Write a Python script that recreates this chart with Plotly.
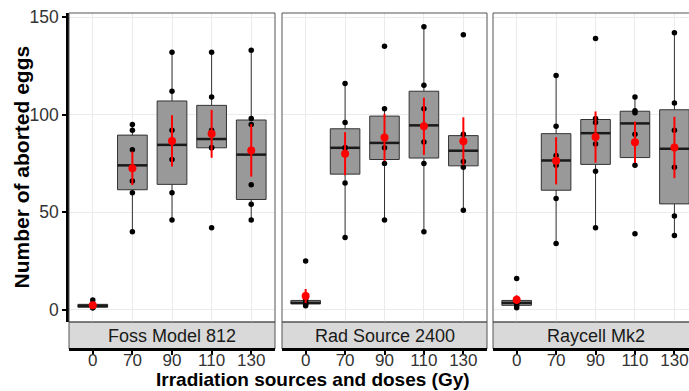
import numpy as np
import plotly.graph_objects as go

# ---------------- data ----------------
doses = ["0", "70", "90", "110", "130"]
sources = ["Foss Model 812", "Rad Source 2400", "Raycell Mk2"]

foss_model_812 = [
    [1, 1, 2, 2, 3, 5],
    [40, 60, 66, 82, 92, 95],
    [46, 60, 77, 92, 112, 132],
    [42, 83, 83, 92, 109, 132],
    [46, 54, 64, 95, 98, 133],
]
rad_source_2400 = [
    [2, 3, 3, 4, 5, 25],
    [37, 65, 83, 83, 96, 116],
    [46, 75, 83, 88, 103, 135],
    [40, 75, 86, 103, 115, 145],
    [51, 73, 76, 87, 90, 141],
]
raycell_mk2 = [
    [1, 2, 3, 4, 5, 16],
    [34, 57, 74, 79, 94, 120],
    [42, 71, 85, 96, 98, 139],
    [39, 74, 90, 101, 102, 109],
    [38, 48, 73, 92, 106, 142],
]
y_ticks = [0, 50, 100, 150]
x_title = "Irradiation sources and doses (Gy)"
y_title = "Number of aborted eggs"

panel_data = [foss_model_812, rad_source_2400, raycell_mk2]

# ---------------- layout geometry ----------------
W, H = 689, 391
ML, MR, MT, MB = 69, 0, 13, 42
PW = W - ML - MR
PH = H - MT - MB
strip_h = 27
strip_frac = strip_h / PH
panel_px = [(69, 275), (282, 487), (493, 689)]
panel_dom = [[(a - ML) / PW, (b - ML) / PW] for a, b in panel_px]
x_ranges = [[-0.6, 4.6], [-0.6, 4.6], [-0.6, 4.37]]
y_range = [-6.3, 152.1]
box_w = 0.75

FONT = "Arial, Liberation Sans, sans-serif"
fig = go.Figure()

for p, data in enumerate(panel_data):
    xa = "x" if p == 0 else f"x{p+1}"
    ya = "y" if p == 0 else f"y{p+1}"
    idx = list(range(len(doses)))
    q1s, meds, q3s, los, his, means, ses = [], [], [], [], [], [], []
    for vals in data:
        v = np.array(vals, dtype=float)
        q1, med, q3 = np.percentile(v, [25, 50, 75])
        iqr = q3 - q1
        lo = v[v >= q1 - 1.5 * iqr].min()
        hi = v[v <= q3 + 1.5 * iqr].max()
        q1s.append(q1); meds.append(med); q3s.append(q3)
        los.append(lo); his.append(hi)
        means.append(v.mean()); ses.append(v.std(ddof=1) / np.sqrt(len(v)))
    fig.add_trace(go.Box(
        x=idx, q1=q1s, median=meds, q3=q3s, lowerfence=los, upperfence=his,
        width=box_w, whiskerwidth=0, boxpoints=False,
        fillcolor="#999999", line=dict(color="#333333", width=1),
        xaxis=xa, yaxis=ya, showlegend=False, hoverinfo="skip"))
    # thicker median lines
    mx, my = [], []
    for i, m in zip(idx, meds):
        mx += [i - box_w / 2, i + box_w / 2, None]
        my += [m, m, None]
    fig.add_trace(go.Scatter(x=mx, y=my, mode="lines",
                             line=dict(color="#1a1a1a", width=2.5),
                             xaxis=xa, yaxis=ya, showlegend=False, hoverinfo="skip"))
    # raw points
    px, py = [], []
    for i, vals in zip(idx, data):
        px += [i] * len(vals)
        py += list(vals)
    fig.add_trace(go.Scatter(x=px, y=py, mode="markers",
                             marker=dict(color="black", size=5.5),
                             xaxis=xa, yaxis=ya, showlegend=False, hoverinfo="skip"))
    # mean +/- SE
    fig.add_trace(go.Scatter(x=idx, y=means, mode="markers",
                             marker=dict(color="#ff0000", size=8),
                             error_y=dict(type="data", array=ses, color="#ff0000",
                                          thickness=2, width=0),
                             xaxis=xa, yaxis=ya, showlegend=False, hoverinfo="skip"))

layout = dict(
    width=W, height=H,
    margin=dict(l=ML, r=MR, t=MT, b=MB, pad=0),
    paper_bgcolor="white", plot_bgcolor="white",
    template="none",
    font=dict(family=FONT, color="#333333"),
    shapes=[], annotations=[],
)

for p in range(3):
    xk = "xaxis" if p == 0 else f"xaxis{p+1}"
    yk = "yaxis" if p == 0 else f"yaxis{p+1}"
    layout[xk] = dict(
        domain=panel_dom[p], range=x_ranges[p], anchor="free", position=0,
        tickmode="array", tickvals=list(range(len(doses))), ticktext=doses,
        showline=True, linecolor="black", linewidth=2.5,
        ticks="outside", ticklen=4, tickcolor="black", tickwidth=1.5,
        ticklabelstandoff=-9, ticklabeloverflow="allow",
        showgrid=True, gridcolor="#EBEBEB", gridwidth=1, zeroline=False,
        tickfont=dict(size=17, color="#333333", family=FONT),
        automargin=False, fixedrange=True,
    )
    ydict = dict(
        domain=[strip_frac, 1], range=y_range, anchor="x" if p == 0 else f"x{p+1}",
        tickmode="array", tickvals=y_ticks,
        showgrid=True, gridcolor="#EBEBEB", gridwidth=1, zeroline=False,
        automargin=False, fixedrange=True,
    )
    if p == 0:
        ydict.update(showline=True, linecolor="black", linewidth=2.5,
                     ticks="outside", ticklen=4, tickcolor="black", tickwidth=1.5,
                     showticklabels=True,
                     tickfont=dict(size=17.5, color="#333333", family=FONT))
    else:
        ydict.update(showline=False, ticks="", showticklabels=False, matches="y")
    layout[yk] = ydict

    x0, x1 = panel_dom[p]
    if p == 2:
        x1 = 1.02
    # panel border
    layout["shapes"].append(dict(type="rect", xref="paper", yref="paper",
                                 x0=x0, x1=x1, y0=strip_frac, y1=1,
                                 line=dict(color="#555555", width=1), layer="above"))
    # strip
    layout["shapes"].append(dict(type="rect", xref="paper", yref="paper",
                                 x0=x0, x1=x1, y0=0, y1=strip_frac,
                                 fillcolor="#D9D9D9",
                                 line=dict(color="#555555", width=1), layer="below"))
    full_x1 = panel_dom[p][1] if p < 2 else (698 - ML) / PW
    layout["annotations"].append(dict(
        text=sources[p], xref="paper", yref="paper",
        x=(x0 + full_x1) / 2, y=strip_frac / 2, xanchor="center", yanchor="middle",
        showarrow=False, font=dict(size=18, color="#1a1a1a", family=FONT)))

layout["annotations"].append(dict(
    text=f"<b>{x_title}</b>", xref="paper", yref="paper",
    x=(313 - ML) / PW, y=0, yshift=-30, xanchor="center", yanchor="middle",
    showarrow=False, font=dict(size=19, color="black", family=FONT)))
layout["annotations"].append(dict(
    text=f"<b>{y_title}</b>", xref="paper", yref="paper",
    x=0, xshift=-48, y=(MT + PH - (MT + (PH - strip_h) / 2)) / PH, textangle=-90,
    xanchor="center", yanchor="middle",
    showarrow=False, font=dict(size=21, color="black", family=FONT)))

fig.update_layout(**layout)
fig.write_html("out.html")
